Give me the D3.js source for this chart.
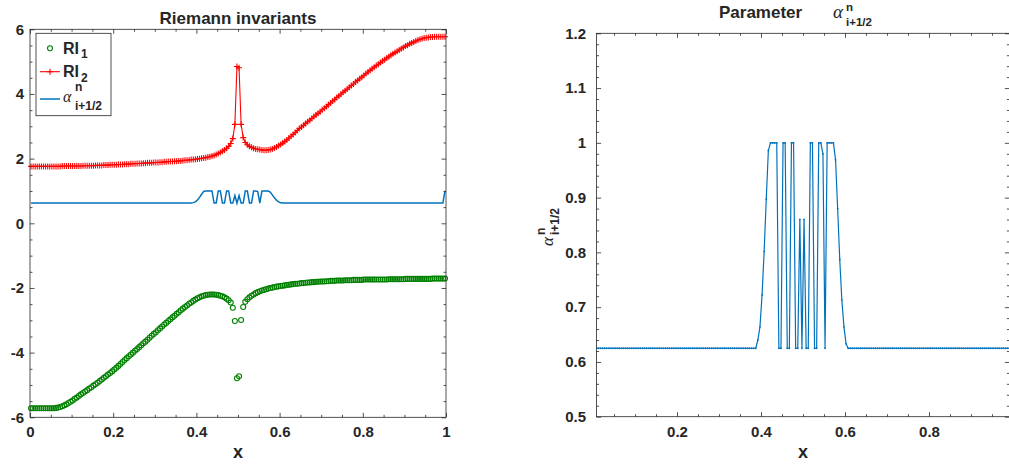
<!DOCTYPE html>
<html><head><meta charset="utf-8">
<script src="https://cdn.jsdelivr.net/npm/d3@7"></script>
<style>body{margin:0;background:#fff}svg{display:block}</style>
</head><body>
<svg id="c" width="1009" height="465"></svg>
<script>
// ---- data (cell centres x = xStart + i*xStep, 200 cells) ----
const xStart = 0.0025, xStep = 0.005;
const RI1 = [
-5.72,-5.72,-5.72,-5.72,-5.72,-5.72,-5.72,-5.72,-5.72,-5.72,
-5.72,-5.72,-5.71,-5.70,-5.68,-5.66,-5.63,-5.60,-5.56,-5.52,
-5.48,-5.43,-5.39,-5.34,-5.29,-5.25,-5.20,-5.16,-5.11,-5.07,
-5.02,-4.98,-4.93,-4.88,-4.83,-4.78,-4.73,-4.68,-4.63,-4.58,
-4.52,-4.47,-4.41,-4.35,-4.29,-4.23,-4.17,-4.11,-4.06,-4.00,
-3.94,-3.89,-3.83,-3.77,-3.71,-3.66,-3.60,-3.54,-3.48,-3.42,
-3.37,-3.31,-3.25,-3.19,-3.13,-3.08,-3.02,-2.97,-2.91,-2.86,
-2.80,-2.75,-2.69,-2.64,-2.59,-2.54,-2.49,-2.45,-2.40,-2.36,
-2.32,-2.29,-2.26,-2.24,-2.22,-2.21,-2.20,-2.20,-2.20,-2.21,
-2.22,-2.24,-2.26,-2.29,-2.33,-2.38,-2.45,-2.61,-3.02,-4.79,
-4.73,-2.99,-2.59,-2.43,-2.35,-2.29,-2.24,-2.20,-2.16,-2.13,
-2.10,-2.08,-2.06,-2.04,-2.02,-2.00,-1.99,-1.97,-1.96,-1.95,
-1.94,-1.93,-1.92,-1.91,-1.90,-1.89,-1.88,-1.87,-1.87,-1.86,
-1.85,-1.85,-1.84,-1.83,-1.83,-1.82,-1.82,-1.81,-1.81,-1.80,
-1.80,-1.80,-1.79,-1.79,-1.78,-1.78,-1.78,-1.77,-1.77,-1.77,
-1.77,-1.76,-1.76,-1.76,-1.76,-1.75,-1.75,-1.75,-1.75,-1.75,
-1.74,-1.74,-1.74,-1.74,-1.74,-1.74,-1.74,-1.74,-1.74,-1.74,
-1.74,-1.74,-1.73,-1.73,-1.73,-1.73,-1.73,-1.73,-1.73,-1.73,
-1.72,-1.72,-1.72,-1.72,-1.72,-1.72,-1.72,-1.72,-1.72,-1.72,
-1.72,-1.72,-1.72,-1.71,-1.71,-1.71,-1.71,-1.71,-1.71,-1.71
];
const RI2 = [
1.76,1.76,1.76,1.76,1.76,1.76,1.76,1.76,1.76,1.76,
1.76,1.76,1.76,1.76,1.76,1.77,1.77,1.77,1.77,1.77,
1.77,1.77,1.77,1.77,1.77,1.78,1.78,1.78,1.78,1.78,
1.78,1.79,1.79,1.79,1.79,1.80,1.80,1.80,1.81,1.81,
1.81,1.81,1.82,1.82,1.82,1.83,1.83,1.83,1.84,1.84,
1.84,1.85,1.85,1.85,1.86,1.86,1.87,1.87,1.87,1.88,
1.88,1.88,1.89,1.89,1.90,1.90,1.91,1.91,1.91,1.92,
1.92,1.93,1.93,1.94,1.95,1.95,1.96,1.97,1.97,1.98,
1.99,2.00,2.01,2.02,2.03,2.05,2.06,2.08,2.10,2.13,
2.16,2.19,2.23,2.27,2.32,2.38,2.47,2.62,3.06,4.85,
4.81,3.06,2.65,2.50,2.43,2.38,2.35,2.32,2.30,2.29,
2.28,2.27,2.26,2.26,2.27,2.28,2.30,2.33,2.36,2.40,
2.44,2.48,2.53,2.58,2.64,2.69,2.75,2.81,2.87,2.93,
2.98,3.03,3.09,3.14,3.19,3.24,3.30,3.35,3.40,3.45,
3.51,3.56,3.61,3.67,3.72,3.78,3.83,3.89,3.94,3.99,
4.05,4.10,4.15,4.21,4.26,4.31,4.37,4.42,4.47,4.52,
4.57,4.63,4.68,4.73,4.78,4.83,4.88,4.92,4.97,5.02,
5.06,5.11,5.15,5.20,5.24,5.28,5.32,5.36,5.40,5.44,
5.48,5.51,5.55,5.58,5.61,5.64,5.67,5.69,5.71,5.73,
5.74,5.75,5.76,5.76,5.77,5.77,5.77,5.77,5.77,5.77
];
const alpha = [
0.625,0.625,0.625,0.625,0.625,0.625,0.625,0.625,0.625,0.625,
0.625,0.625,0.625,0.625,0.625,0.625,0.625,0.625,0.625,0.625,
0.625,0.625,0.625,0.625,0.625,0.625,0.625,0.625,0.625,0.625,
0.625,0.625,0.625,0.625,0.625,0.625,0.625,0.625,0.625,0.625,
0.625,0.625,0.625,0.625,0.625,0.625,0.625,0.625,0.625,0.625,
0.625,0.625,0.625,0.625,0.625,0.625,0.625,0.625,0.625,0.625,
0.625,0.625,0.625,0.625,0.625,0.625,0.625,0.625,0.625,0.625,
0.625,0.625,0.625,0.625,0.625,0.625,0.625,0.625,0.640,0.664,
0.722,0.802,0.897,0.986,1,1,1,1,0.625,0.625,
1,1,0.625,0.625,1,1,0.625,0.625,0.86,0.625,
0.86,0.625,0.625,1,1,0.625,0.625,1,1,0.98,
0.625,1,1,1,1,0.969,0.88,0.787,0.713,0.664,
0.633,0.625,0.625,0.625,0.625,0.625,0.625,0.625,0.625,0.625,
0.625,0.625,0.625,0.625,0.625,0.625,0.625,0.625,0.625,0.625,
0.625,0.625,0.625,0.625,0.625,0.625,0.625,0.625,0.625,0.625,
0.625,0.625,0.625,0.625,0.625,0.625,0.625,0.625,0.625,0.625,
0.625,0.625,0.625,0.625,0.625,0.625,0.625,0.625,0.625,0.625,
0.625,0.625,0.625,0.625,0.625,0.625,0.625,0.625,0.625,0.625,
0.625,0.625,0.625,0.625,0.625,0.625,0.625,0.625,0.625,0.625,
0.625,0.625,0.625,0.625,0.625,0.625,0.625,0.625,0.625,1
];
const leftXTicks = [0,0.2,0.4,0.6,0.8,1];
const leftXLabels = ["0","0.2","0.4","0.6","0.8","1"];
const leftYTicks = [-6,-4,-2,0,2,4,6];
const leftYLabels = ["-6","-4","-2","0","2","4","6"];
const rightXTicks = [0.2,0.4,0.6,0.8];
const rightXLabels = ["0.2","0.4","0.6","0.8"];
const rightYTicks = [0.5,0.6,0.7,0.8,0.9,1,1.1,1.2];
const rightYLabels = ["0.5","0.6","0.7","0.8","0.9","1","1.1","1.2"];

// ---- drawing ----
const svg = d3.select("#c");
const FONT = "'Liberation Sans', Arial, Helvetica, sans-serif";
const SERIF = "'Liberation Serif', 'DejaVu Serif', serif";
const AX = "#262626";
const pts = RI1.map((_, i) => i);
const xAt = i => xStart + i * xStep;

function minorVals(lo, hi, step, majors) {
  const out = [];
  for (let v = lo; v <= hi + 1e-9; v += step) {
    const r = Math.round(v * 1000) / 1000;
    if (!majors.some(m => Math.abs(m - r) < 1e-6)) out.push(r);
  }
  return out;
}

function drawAxes(g, x, y, box, o) {
  const fmt = (ticks, labels) => d => labels[ticks.findIndex(t => Math.abs(t - d) < 1e-9)];
  const style = sel => {
    sel.select(".domain").remove();
    sel.selectAll("line").attr("stroke", AX).attr("stroke-width", 0.8);
    sel.attr("font-family", FONT).attr("font-size", 15).attr("font-weight", "bold");
    sel.selectAll("text").attr("fill", AX);
  };
  g.append("g").attr("transform", `translate(0,${box.y1})`)
    .call(d3.axisBottom(x).tickValues(o.xMinor).tickSize(-2.5).tickFormat("")).call(style);
  g.append("g").attr("transform", `translate(0,${box.y1})`)
    .call(d3.axisBottom(x).tickValues(o.xTicks).tickSize(-4.5).tickPadding(o.padX).tickFormat(fmt(o.xTicks, o.xLabels))).call(style);
  g.append("g").attr("transform", `translate(0,${box.y0})`)
    .call(d3.axisTop(x).tickValues(o.xMinor).tickSize(-2.5).tickFormat("")).call(style);
  g.append("g").attr("transform", `translate(0,${box.y0})`)
    .call(d3.axisTop(x).tickValues(o.xTicks).tickSize(-4.5).tickFormat("")).call(style);
  g.append("g").attr("transform", `translate(${box.x0},0)`)
    .call(d3.axisLeft(y).tickValues(o.yMinor).tickSize(-2.5).tickFormat("")).call(style);
  g.append("g").attr("transform", `translate(${box.x0},0)`)
    .call(d3.axisLeft(y).tickValues(o.yTicks).tickSize(-4.5).tickPadding(o.padY).tickFormat(fmt(o.yTicks, o.yLabels))).call(style);
  g.append("g").attr("transform", `translate(${box.x1},0)`)
    .call(d3.axisRight(y).tickValues(o.yMinor).tickSize(-2.5).tickFormat("")).call(style);
  g.append("g").attr("transform", `translate(${box.x1},0)`)
    .call(d3.axisRight(y).tickValues(o.yTicks).tickSize(-4.5).tickFormat("")).call(style);
  g.append("rect").attr("x", box.x0).attr("y", box.y0)
    .attr("width", box.x1 - box.x0).attr("height", box.y1 - box.y0)
    .attr("fill", "none").attr("stroke", AX).attr("stroke-width", 0.8);
}

function alphaLabel(g, x, y, aSize, sSize, dxSub, upSup, downSub) {
  g.append("text").attr("x", x).attr("y", y).attr("font-family", SERIF).attr("font-style", "italic")
    .attr("font-size", aSize).attr("fill", AX).text("α");
  g.append("text").attr("x", x + dxSub).attr("y", y - upSup).attr("font-family", FONT).attr("font-weight", "bold")
    .attr("font-size", sSize).attr("fill", AX).text("n");
  g.append("text").attr("x", x + dxSub).attr("y", y + downSub).attr("font-family", FONT).attr("font-weight", "bold")
    .attr("font-size", sSize).attr("fill", AX).text("i+1/2");
}

// ===== Left panel =====
const LB = {x0: 30, x1: 446, y0: 29.3, y1: 417.3};
const xL = d3.scaleLinear().domain([0, 1]).range([LB.x0, LB.x1]);
const yL = d3.scaleLinear().domain([-6, 6]).range([LB.y1, LB.y0]);
const gL = svg.append("g");
svg.append("clipPath").attr("id", "clipL").append("rect")
  .attr("x", LB.x0 - 3).attr("y", LB.y0 - 3).attr("width", LB.x1 - LB.x0 + 6).attr("height", LB.y1 - LB.y0 + 6);

const dL = gL.append("g").attr("clip-path", "url(#clipL)");
dL.append("g").selectAll("circle").data(pts).join("circle")
  .attr("cx", i => xL(xAt(i))).attr("cy", i => yL(RI1[i])).attr("r", 2.5)
  .attr("fill", "none").attr("stroke", "#008000").attr("stroke-width", 1.1);
dL.append("path").datum(pts)
  .attr("d", d3.line().x(i => xL(xAt(i))).y(i => yL(RI2[i])))
  .attr("fill", "none").attr("stroke", "#ff0000").attr("stroke-width", 1.1);
dL.append("path")
  .attr("d", pts.map(i => { const px = xL(xAt(i)), py = yL(RI2[i]);
    return `M${px-3},${py}h6M${px},${py-3}v6`; }).join(""))
  .attr("fill", "none").attr("stroke", "#ff0000").attr("stroke-width", 1.1);
dL.append("path").datum(pts)
  .attr("d", d3.line().x(i => xL(xAt(i))).y(i => yL(alpha[i])))
  .attr("fill", "none").attr("stroke", "#0072BD").attr("stroke-width", 1.5);

drawAxes(gL, xL, yL, LB, {
  xTicks: leftXTicks, xLabels: leftXLabels, xMinor: minorVals(0, 1, 0.05, leftXTicks),
  yTicks: leftYTicks, yLabels: leftYLabels, yMinor: minorVals(-6, 6, 0.5, leftYTicks),
  padX: 9.5, padY: 6
});

gL.append("text").attr("x", (LB.x0 + LB.x1) / 2).attr("y", 23.5).attr("text-anchor", "middle")
  .attr("font-family", FONT).attr("font-weight", "bold").attr("font-size", 17).attr("fill", AX)
  .text("Riemann invariants");
gL.append("text").attr("x", (LB.x0 + LB.x1) / 2).attr("y", 458).attr("text-anchor", "middle")
  .attr("font-family", FONT).attr("font-weight", "bold").attr("font-size", 18).attr("fill", AX).text("x");

// legend
const lg = gL.append("g");
lg.append("rect").attr("x", 36).attr("y", 33.3).attr("width", 75).attr("height", 82.4)
  .attr("fill", "#fff").attr("stroke", AX).attr("stroke-width", 0.8);
lg.append("circle").attr("cx", 50).attr("cy", 48.3).attr("r", 2.5)
  .attr("fill", "none").attr("stroke", "#008000").attr("stroke-width", 1.1);
lg.append("line").attr("x1", 40).attr("x2", 60).attr("y1", 71.7).attr("y2", 71.7)
  .attr("stroke", "#ff0000").attr("stroke-width", 1.1);
lg.append("path").attr("d", "M47,71.7h6M50,68.7v6").attr("stroke", "#ff0000").attr("stroke-width", 1.1);
lg.append("line").attr("x1", 40).attr("x2", 60).attr("y1", 99).attr("y2", 99)
  .attr("stroke", "#0072BD").attr("stroke-width", 1.5);
[["1", 53.5], ["2", 77]].forEach(([s, by]) => {
  lg.append("text").attr("x", 63).attr("y", by).attr("font-family", FONT).attr("font-weight", "bold")
    .attr("font-size", 16).attr("fill", AX).text("RI");
  lg.append("text").attr("x", 81).attr("y", by + 4.5).attr("font-family", FONT).attr("font-weight", "bold")
    .attr("font-size", 12).attr("fill", AX).text(s);
});
alphaLabel(lg, 63, 102, 16, 12, 12, 11.5, 8);

// ===== Right panel =====
const RB = {x0: 596.6, x1: 1009.4, y0: 33.3, y1: 416.7};
const xR = d3.scaleLinear().domain([0.0085, 0.9915]).range([RB.x0, RB.x1]);
const yR = d3.scaleLinear().domain([0.5, 1.2]).range([RB.y1, RB.y0]);
const gR = svg.append("g");
svg.append("clipPath").attr("id", "clipR").append("rect")
  .attr("x", RB.x0).attr("y", RB.y0 - 2).attr("width", RB.x1 - RB.x0).attr("height", RB.y1 - RB.y0 + 4);
const dR = gR.append("g").attr("clip-path", "url(#clipR)");
dR.append("path").datum(pts)
  .attr("d", d3.line().x(i => xR(xAt(i))).y(i => yR(alpha[i])))
  .attr("fill", "none").attr("stroke", "#0072BD").attr("stroke-width", 1.2);
dR.append("g").selectAll("circle").data(pts).join("circle")
  .attr("cx", i => xR(xAt(i))).attr("cy", i => yR(alpha[i])).attr("r", 0.9)
  .attr("fill", "#0072BD");

drawAxes(gR, xR, yR, RB, {
  xTicks: rightXTicks, xLabels: rightXLabels, xMinor: minorVals(0.05, 0.95, 0.05, rightXTicks),
  yTicks: rightYTicks, yLabels: rightYLabels, yMinor: minorVals(0.5, 1.2, 0.02, rightYTicks),
  padX: 10, padY: 10.5
});

gR.append("text").attr("x", 719).attr("y", 18).attr("font-family", FONT).attr("font-weight", "bold")
  .attr("font-size", 17).attr("fill", AX).text("Parameter");
alphaLabel(gR, 833, 18, 19, 11.5, 13, 7, 7.5);
gR.append("text").attr("x", 803).attr("y", 458).attr("text-anchor", "middle")
  .attr("font-family", FONT).attr("font-weight", "bold").attr("font-size", 18).attr("fill", AX).text("x");
const yl = gR.append("g").attr("transform", "translate(553,246) rotate(-90)");
alphaLabel(yl, 0, 0, 17, 12, 11, 8.5, 5.5);
</script>
</body></html>
